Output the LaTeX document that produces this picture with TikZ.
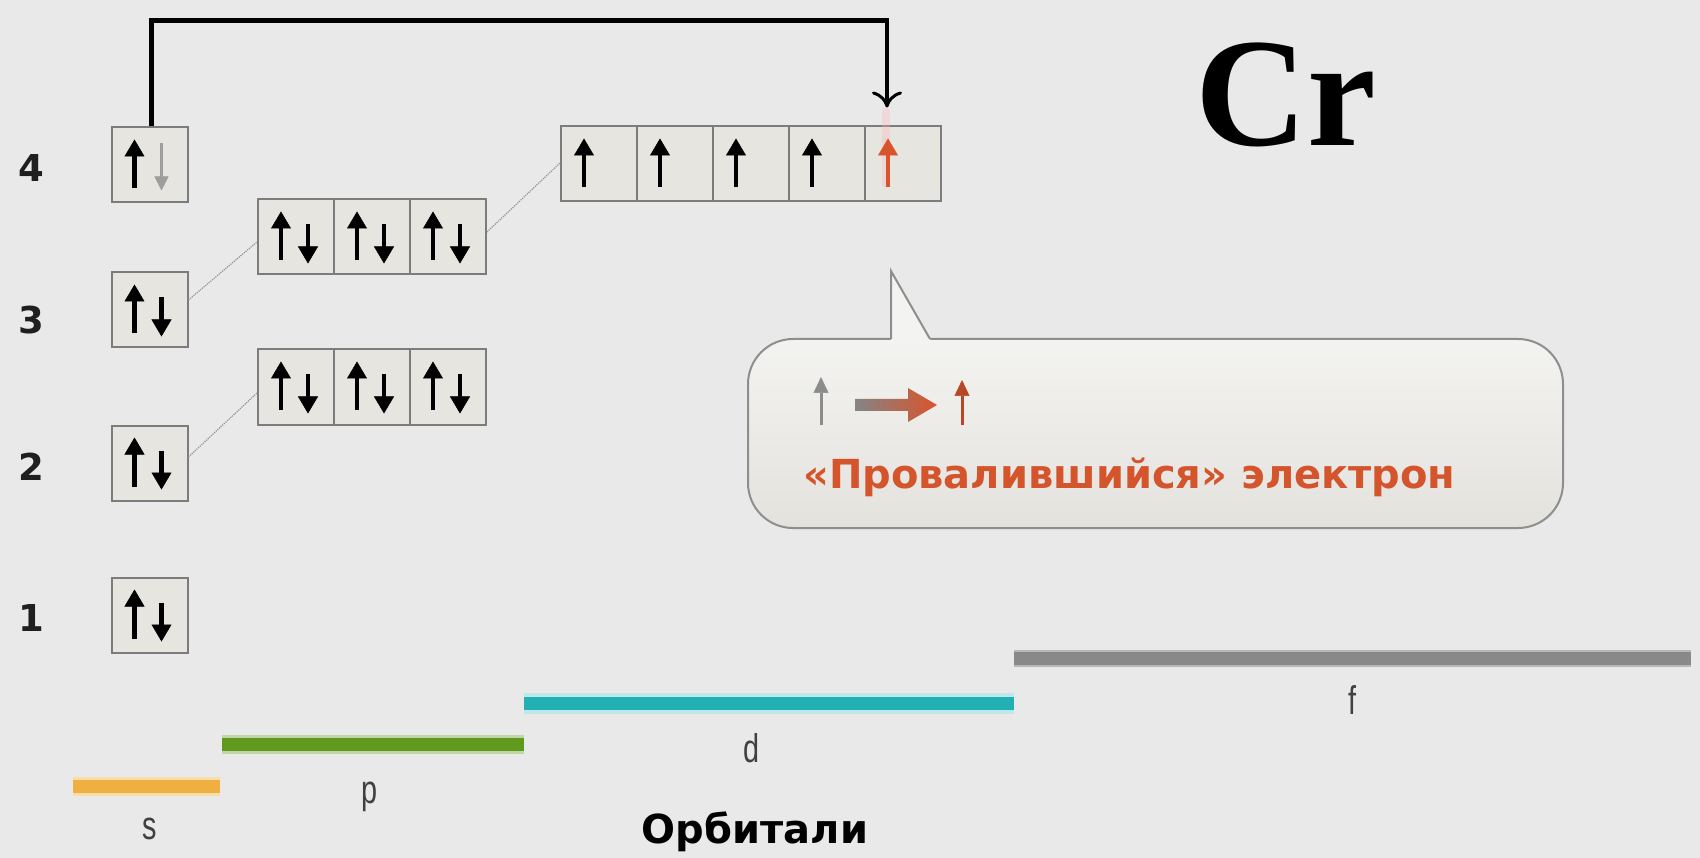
\documentclass[tikz,border=0pt]{standalone}
\usepackage{fontspec}
\setmainfont{DejaVu Sans}
\newfontfamily\dvs{DejaVu Sans}
\newfontfamily\elemfont{Liberation Serif}
\newfontfamily\narrowsans[FakeStretch=0.72]{Liberation Sans}
\usetikzlibrary{arrows.meta,calc}

\definecolor{bg}{HTML}{E9E9E9}
\definecolor{boxfill}{HTML}{E7E5DF}
\definecolor{boxedge}{HTML}{7C7C7C}
\definecolor{redspin}{HTML}{D9542C}
\definecolor{calltext}{HTML}{D4542B}
\definecolor{calledge}{HTML}{8E8E8E}
\definecolor{ctop}{HTML}{F3F3F1}
\definecolor{cbot}{HTML}{E4E2DD}
\definecolor{sbar}{HTML}{F0B041}
\definecolor{pbar}{HTML}{5F9A1F}
\definecolor{dbar}{HTML}{22B0B5}
\definecolor{fbar}{HTML}{898989}

\tikzset{
  orb/.style={draw=boxedge, fill=boxfill, line width=2pt,
    minimum width=76pt, minimum height=75pt, inner sep=0pt},
  spin/.style={line width=4.5pt,
    -{Triangle[width=20pt,length=17pt,line width=0.5pt]}},
  spinthin/.style={line width=2.5pt,
    -{Triangle[width=14pt,length=14pt,line width=0.5pt]}},
  link/.style={draw=black!42, line width=1.2pt, densely dotted},
  jump/.style={line width=4.5pt, shorten >=18pt,
    -{To[length=16pt,width=30pt,line width=3pt]}},
  level/.style={font=\dvs\bfseries\fontsize{37}{44}\selectfont, text=black!88},
  subl/.style={font=\narrowsans\fontsize{40}{46}\selectfont, text=black!75},
  bar/.style={line width=13pt}
}

% arrow symbols inside an orbital cell
\newcommand\eup[2][black]{\draw[spin,#1] ($(#2.north west)+(24,62)$) -- ($(#2.north west)+(24,13)$);}
\newcommand\edown[2][black]{\draw[spin,#1] ($(#2.north west)+(51,26)$) -- ($(#2.north west)+(51,65)$);}
\newcommand\epair[1]{\eup{#1}\edown{#1}}

\begin{document}
\begin{tikzpicture}[x=1pt,y=-1pt]
  \fill[bg] (0,0) rectangle (1700,858);
  \useasboundingbox (0,0) rectangle (1700,858);

  % level numbers
  \node[level] (n4) at (31,168) {4};
  \node[level] (n3) at (31,320) {3};
  \node[level] (n2) at (31,467) {2};
  \node[level] (n1) at (31,618) {1};

  % s cells
  \node[orb] (s4) at (149.5,165) {};
  \node[orb] (s3) at (149.5,310) {};
  \node[orb] (s2) at (149.5,463) {};
  \node[orb] (s1) at (149.5,615) {};

  % p cells
  \node[orb] (p3a) at (296,237) {};
  \node[orb] (p3b) at (372,237) {};
  \node[orb] (p3c) at (448,237) {};
  \node[orb] (p2a) at (296,387) {};
  \node[orb] (p2b) at (372,387) {};
  \node[orb] (p2c) at (448,387) {};

  % d cells
  \node[orb] (d1) at (599,164) {};
  \node[orb] (d2) at (675,164) {};
  \node[orb] (d3) at (751,164) {};
  \node[orb] (d4) at (827,164) {};
  \node[orb] (d5) at (903,164) {};

  % links between sublevels
  \draw[link] ([yshift=10pt]s3.east) -- ([yshift=-5pt]p3a.west);
  \draw[link] ([yshift=6pt]s2.east) -- ([yshift=-6pt]p2a.west);
  \draw[link] ([yshift=5pt]p3c.east) -- ([yshift=1pt]d1.west);

  % electrons
  \eup{s4}
  \draw[spinthin,black!38] ($(s4.north west)+(51,17)$) -- ($(s4.north west)+(51,64)$);
  \epair{s3}\epair{s2}\epair{s1}
  \epair{p3a}\epair{p3b}\epair{p3c}
  \epair{p2a}\epair{p2b}\epair{p2c}
  \eup{d1}\eup{d2}\eup{d3}\eup{d4}
  \draw[line width=8pt, red!30, opacity=0.3, line cap=round]
    ($(d5.north west)+(22,-14)$) -- ($(d5.north west)+(22,58)$);
  \eup[redspin]{d5}

  % electron jump from 4s to 3d
  \draw[jump] ([xshift=2pt]s4.north) -- ++(0,-106) -| ([xshift=-16pt]d5.north);

  % element symbol
  \node[font=\elemfont\bfseries\fontsize{155}{160}\selectfont, anchor=base, inner sep=0pt]
    (elem) at (1286,146) {Cr};

  % callout
  \draw[draw=calledge, line width=2pt, top color=ctop, bottom color=cbot,
        rounded corners=45pt] (748,339) rectangle (1563,528);
  \fill[ctop] (891,341) -- (891,271) -- (931,341) -- cycle;
  \draw[calledge, line width=2pt, line join=miter] (891,339) -- (891,271) -- (930,339);

  \draw[line width=3pt, black!45, -{Triangle[width=15pt,length=16pt,line width=0.5pt]}]
    (821,425) -- (821,377);
  \shade[left color=black!48, right color=redspin]
    (855,399) -- (908,399) -- (908,388) -- (937,405) -- (908,422) -- (908,411) -- (855,411) -- cycle;
  \draw[line width=3pt, redspin!85!black, -{Triangle[width=15pt,length=16pt,line width=0.5pt]}]
    (962,425) -- (962,380);
  \node[font=\dvs\bfseries\fontsize{40}{46}\selectfont, text=calltext, anchor=base west, inner sep=0pt]
    (note) at (803,488) {«Провалившийся» электрон};

  % sublevel bars
  \draw[bar, sbar!45, line width=19pt] (73,786) -- (220,786);
  \draw[bar, sbar] (73,786) -- (220,786);
  \draw[bar, pbar!40, line width=19pt] (222,744) -- (524,744);
  \draw[bar, pbar] (222,744) -- (524,744);
  \draw[bar, dbar!30, line width=21pt] (524,703) -- (1014,703);
  \draw[bar, dbar] (524,703) -- (1014,703);
  \draw[bar, fbar!60, line width=17pt] (1014,658) -- (1691,658);
  \draw[bar, fbar] (1014,658) -- (1691,658);

  \node[subl] (ls) at (150,829) {s};
  \node[subl] (lp) at (370,797) {p};
  \node[subl] (ld) at (751,748) {d};
  \node[subl] (lf) at (1352,700) {f};

  \node[font=\dvs\bfseries\fontsize{40}{46}\selectfont, anchor=base, inner sep=0pt]
    (caption) at (755,843) {Орбитали};
\end{tikzpicture}
\end{document}
